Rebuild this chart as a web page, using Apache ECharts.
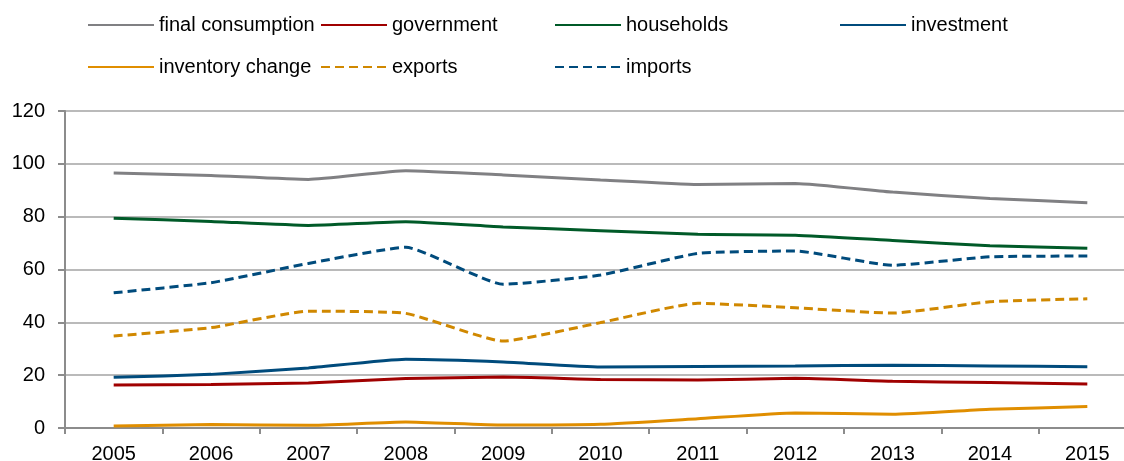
<!DOCTYPE html>
<html>
<head>
<meta charset="utf-8">
<script src="https://cdn.jsdelivr.net/npm/echarts@6/dist/echarts.min.js"></script>
<style>
html,body{margin:0;padding:0;background:#fff;overflow:hidden;}
#chart{width:1124px;height:461px;}
</style>
</head>
<body>
<div id="chart"></div>
<script>
var years = ['2005','2006','2007','2008','2009','2010','2011','2012','2013','2014','2015'];
var finalConsumption = [96.5, 95.6, 94.1, 97.4, 95.8, 93.9, 92.2, 92.6, 89.3, 86.9, 85.3];
var government = [16.3, 16.5, 17.0, 18.7, 19.3, 18.4, 18.2, 18.8, 17.7, 17.2, 16.7];
var households = [79.4, 78.2, 76.7, 78.1, 76.1, 74.7, 73.3, 73.0, 71.0, 69.0, 68.0];
var investment = [19.2, 20.3, 22.7, 26.0, 25.0, 23.1, 23.3, 23.5, 23.8, 23.5, 23.2];
var inventoryChange = [0.8, 1.3, 1.0, 2.3, 1.1, 1.4, 3.5, 5.7, 5.2, 7.1, 8.1];
var exportsData = [34.8, 38.0, 44.2, 43.4, 32.9, 39.9, 47.2, 45.5, 43.5, 47.8, 48.9];
var importsData = [51.2, 55.0, 62.3, 68.4, 54.4, 57.9, 66.1, 67.0, 61.6, 64.8, 65.1];
var yTicks = [0, 20, 40, 60, 80, 100, 120];

var FONT = '"Liberation Sans", Arial, sans-serif';
var names = ['final consumption','government','households','investment','inventory change','exports','imports'];
var colors = ['#808083','#a00000','#005a28','#004b7c','#e08e00','#d08800','#004b7c'];
var dashes = [null,null,null,null,null,[9,5],[9,5]];
var datas = [finalConsumption, government, households, investment, inventoryChange, exportsData, importsData];
var legendPos = [[87,15],[320,15],[554,15],[839,15],[87,57],[320,57],[554,57]];

var series = names.map(function(n,i){
  return {
    name: n, type: 'line', data: datas[i], smooth: 0.15,
    symbol: 'none', z: 10 - i,
    lineStyle: {color: colors[i], width: 3, type: dashes[i] || 'solid'},
    itemStyle: {color: colors[i]}
  };
});
var legends = names.map(function(n,i){
  return {
    data: [n], left: legendPos[i][0], top: legendPos[i][1], padding: 0,
    itemWidth: 66, itemHeight: 14, itemGap: 0,
    itemStyle: {opacity: 0},
    textStyle: {fontFamily: FONT, fontSize: 20, color: '#000'}
  };
});

var chart = echarts.init(document.getElementById('chart'));
chart.setOption({
  animation: false,
  legend: legends,
  grid: {left: 65, top: 111, width: 1071, height: 317, containLabel: false, outerBoundsMode: 'none'},
  xAxis: {
    type: 'category', data: years, boundaryGap: true,
    axisLine: {lineStyle: {color: '#8c8c8c', width: 2}},
    axisTick: {show: true, length: 6, lineStyle: {color: '#8c8c8c', width: 2}},
    axisLabel: {fontFamily: FONT, fontSize: 20, color: '#000', margin: 16}
  },
  yAxis: {
    type: 'value', min: yTicks[0], max: yTicks[yTicks.length-1], interval: 20,
    axisLine: {show: true, lineStyle: {color: '#8c8c8c', width: 2}},
    axisTick: {show: true, length: 7, lineStyle: {color: '#8c8c8c', width: 2}},
    axisLabel: {fontFamily: FONT, fontSize: 20, color: '#000', margin: 20},
    splitLine: {show: true, lineStyle: {color: '#a3a3a3', width: 1.5}}
  },
  series: series
});
</script>
</body>
</html>
